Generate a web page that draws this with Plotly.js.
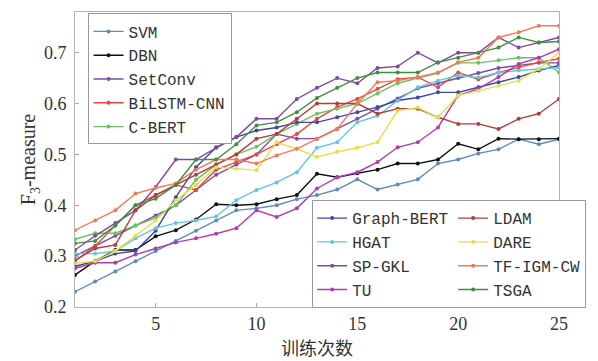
<!DOCTYPE html>
<html>
<head>
<meta charset="utf-8">
<script src="https://cdn.plot.ly/plotly-3.0.1.min.js"></script>
<style>
  html, body { margin: 0; padding: 0; background: #fff; }
  #chart { width: 598px; height: 361px; }
</style>
</head>
<body>
<div id="chart"></div>
<script>
// Training rounds on the x axis
const epochs = [1,2,3,4,5,6,7,8,9,10,11,12,13,14,15,16,17,18,19,20,21,22,23,24,25];

// F3-measure per training round, one array per method
const svm       = [0.23,0.25,0.27,0.29,0.31,0.33,0.35,0.37,0.39,0.394,0.40,0.412,0.42,0.431,0.451,0.431,0.441,0.451,0.482,0.49,0.502,0.51,0.53,0.52,0.53];
const dbn       = [0.263,0.29,0.312,0.312,0.339,0.351,0.372,0.402,0.40,0.402,0.412,0.42,0.462,0.455,0.463,0.47,0.482,0.482,0.49,0.521,0.51,0.531,0.53,0.53,0.531];
const setConv   = [0.30,0.32,0.34,0.36,0.38,0.40,0.43,0.46,0.48,0.50,0.54,0.531,0.531,0.55,0.57,0.59,0.61,0.63,0.64,0.65,0.66,0.67,0.675,0.68,0.68];
const bilstmCnn = [0.29,0.32,0.36,0.40,0.42,0.44,0.43,0.47,0.485,0.50,0.52,0.54,0.57,0.593,0.609,0.629,0.648,0.652,0.632,0.661,0.648,0.661,0.671,0.681,0.688];
const cBert     = [0.333,0.345,0.345,0.36,0.375,0.40,0.45,0.48,0.50,0.515,0.54,0.56,0.58,0.59,0.60,0.62,0.64,0.65,0.66,0.68,0.68,0.685,0.69,0.69,0.661];
const graphBert = [0.28,0.29,0.305,0.31,0.35,0.416,0.475,0.514,0.534,0.547,0.553,0.563,0.563,0.573,0.583,0.593,0.606,0.612,0.622,0.622,0.632,0.642,0.652,0.665,0.675];
const hgat      = [0.305,0.305,0.31,0.335,0.355,0.365,0.37,0.378,0.41,0.43,0.445,0.465,0.513,0.524,0.563,0.576,0.606,0.632,0.645,0.655,0.651,0.661,0.665,0.668,0.671];
const spGkl     = [0.312,0.34,0.365,0.39,0.436,0.49,0.49,0.513,0.534,0.57,0.57,0.609,0.631,0.65,0.64,0.67,0.673,0.70,0.68,0.70,0.70,0.73,0.71,0.72,0.73];
const tu        = [0.276,0.287,0.287,0.303,0.315,0.327,0.335,0.344,0.355,0.39,0.377,0.394,0.433,0.455,0.465,0.485,0.514,0.524,0.553,0.616,0.629,0.652,0.678,0.69,0.707];
const ldam      = [0.292,0.315,0.322,0.39,0.42,0.44,0.46,0.48,0.50,0.531,0.54,0.57,0.60,0.60,0.60,0.58,0.59,0.59,0.573,0.56,0.56,0.55,0.57,0.58,0.609];
const dare      = [0.286,0.29,0.31,0.34,0.37,0.41,0.44,0.475,0.472,0.469,0.524,0.511,0.495,0.505,0.513,0.524,0.586,0.592,0.573,0.616,0.625,0.635,0.645,0.668,0.70];
const tfIgmCw   = [0.351,0.37,0.39,0.423,0.434,0.443,0.47,0.49,0.49,0.482,0.498,0.511,0.531,0.55,0.60,0.642,0.645,0.652,0.661,0.681,0.69,0.73,0.74,0.753,0.753];
const tsga      = [0.325,0.33,0.36,0.40,0.413,0.44,0.49,0.49,0.52,0.557,0.563,0.583,0.611,0.631,0.65,0.661,0.661,0.661,0.681,0.69,0.70,0.71,0.73,0.72,0.722];

const xTicks = [5,10,15,20,25];
const yTicks = [0.2,0.3,0.4,0.5,0.6,0.7];
const yTickText = ['0.2','0.3','0.4','0.5','0.6','0.7'];

function series(name, values, color, legendId, group) {
  const t = {
    x: epochs, y: values, name: name,
    type: 'scatter', mode: 'lines+markers',
    line: { color: color, width: 1.4 },
    marker: { color: color, size: 4 },
    legend: legendId,
    hoverinfo: 'skip'
  };
  if (group) t.legendgroup = group;
  return t;
}

const traces = [
  series('SVM', svm, '#5f8bb8', 'legend'),
  series('DBN', dbn, '#111111', 'legend'),
  series('SetConv', setConv, '#7a4fa6', 'legend'),
  series('BiLSTM-CNN', bilstmCnn, '#e8463a', 'legend'),
  series('C-BERT', cBert, '#6cc062', 'legend'),
  series('Graph-BERT', graphBert, '#3f48a8', 'legend2', 'colA'),
  series('HGAT', hgat, '#63c7dc', 'legend2', 'colA'),
  series('SP-GKL', spGkl, '#8048a2', 'legend2', 'colA'),
  series('TU', tu, '#b03cb0', 'legend2', 'colA'),
  series('LDAM', ldam, '#b43a3c', 'legend2', 'colB'),
  series('DARE', dare, '#e6df48', 'legend2', 'colB'),
  series('TF-IGM-CW', tfIgmCw, '#f47a55', 'legend2', 'colB'),
  series('TSGA', tsga, '#3f8f42', 'legend2', 'colB')
];

const tickFont = { family: 'Liberation Serif, serif', size: 18, color: '#333' };
const legendFont = { family: 'Liberation Mono, monospace', size: 16, color: '#333' };

const layout = {
  width: 598, height: 361,
  margin: { l: 75, r: 19, t: 12, b: 54 },
  paper_bgcolor: '#ffffff', plot_bgcolor: '#ffffff',
  showlegend: true,
  xaxis: {
    range: [1, 25], tickvals: xTicks,
    ticks: 'inside', ticklen: 4, tickcolor: '#aaaaaa',
    showline: true, mirror: true, linecolor: '#b3b3b3', linewidth: 1,
    showgrid: false, zeroline: false,
    tickfont: tickFont,
    title: { text: '训练次数', font: { family: 'Noto Sans CJK SC, sans-serif', size: 18, color: '#333' }, standoff: 1 }
  },
  yaxis: {
    range: [0.2, 0.78], tickvals: yTicks, ticktext: yTickText,
    ticks: 'inside', ticklen: 4, tickcolor: '#aaaaaa',
    showline: true, mirror: true, linecolor: '#b3b3b3', linewidth: 1,
    showgrid: false, zeroline: false,
    tickfont: tickFont, ticklabelstandoff: 4,
    title: { text: 'F<sub>3</sub>-measure', font: { family: 'Liberation Serif, serif', size: 20, color: '#333' }, standoff: 2 }
  },
  legend: {
    x: 0.026, y: 0.995, xanchor: 'left', yanchor: 'top',
    bgcolor: '#ffffff', bordercolor: '#999999', borderwidth: 1,
    font: legendFont, itemwidth: 30, tracegroupgap: 0
  },
  legend2: {
    x: 0.49, y: 0.362, xanchor: 'left', yanchor: 'top',
    orientation: 'h', traceorder: 'grouped', tracegroupgap: 4,
    bgcolor: '#ffffff', bordercolor: '#999999', borderwidth: 1,
    font: legendFont, itemwidth: 30
  }
};

Plotly.newPlot('chart', traces, layout, { staticPlot: true, displayModeBar: false });
</script>
</body>
</html>
